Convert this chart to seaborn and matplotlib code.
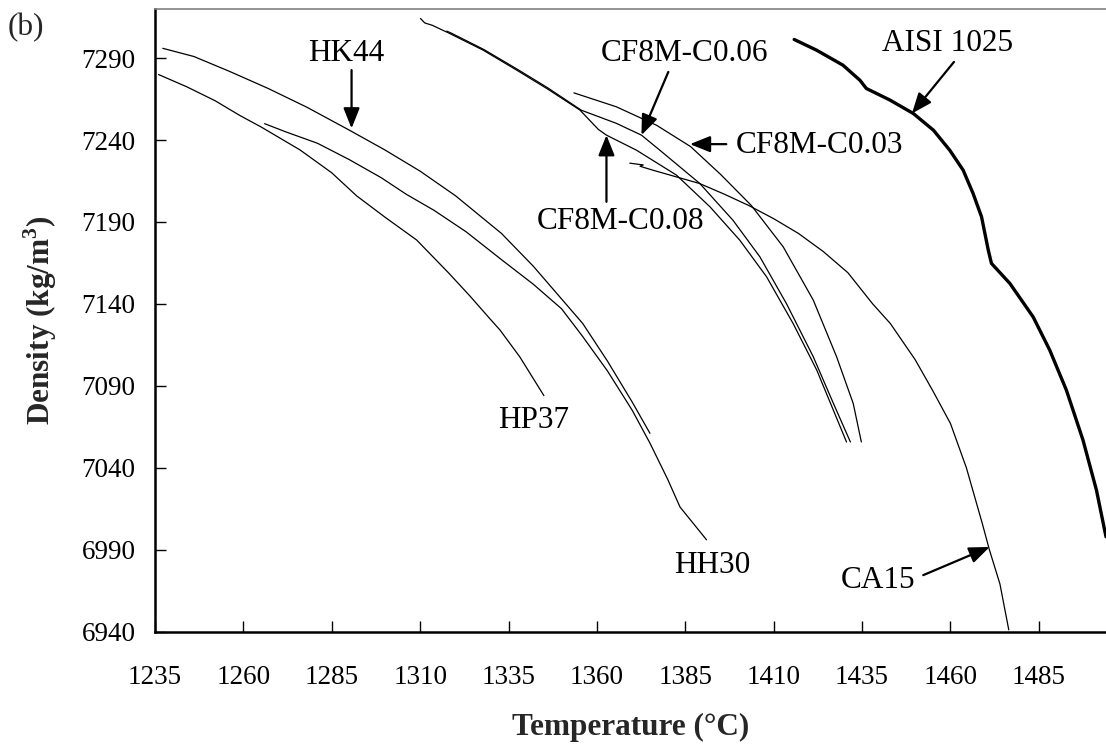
import numpy as np
import pandas as pd
import matplotlib
matplotlib.use("Agg")
import matplotlib.pyplot as plt
import seaborn as sns

# Density vs temperature curves for cast alloys (kg/m^3 vs degC)
hk44_t = [1237.2, 1246, 1256, 1267, 1278, 1290, 1300, 1310, 1320, 1333, 1342, 1350, 1356, 1363, 1370, 1375]
hk44_rho = [7296, 7291, 7282, 7271.5, 7260, 7246, 7234, 7221, 7206, 7183, 7163, 7143, 7128, 7105, 7080, 7061]

hp37_t = [1236, 1244, 1252, 1259, 1265, 1276, 1285, 1292, 1300, 1309, 1318, 1324, 1329.7, 1332.6, 1338.2, 1345]
hp37_rho = [7280, 7272.5, 7264, 7255, 7248, 7234, 7220, 7206, 7193, 7179, 7159, 7145, 7131, 7124, 7107.6, 7084]

hh30_t = [1266, 1272, 1281, 1290, 1299, 1306, 1314, 1323, 1333, 1342, 1350, 1356, 1363, 1370, 1375, 1380, 1383.5, 1391]
hh30_rho = [7250, 7245, 7238, 7228, 7217, 7207, 7197, 7184, 7167, 7152, 7137, 7120, 7099, 7075, 7055, 7033, 7016, 6996]

cf8m08_t = [1310.1, 1311.3, 1313.5, 1318.4, 1327.8, 1337.3, 1345.8, 1355.2, 1360.4, 1362.7, 1371.2, 1382.5,
            1392, 1400.4, 1408, 1415.5, 1422.2, 1426.9, 1430.6]
cf8m08_rho = [7314.2, 7311.5, 7310, 7305, 7294.9, 7282.7, 7271.5, 7258.3, 7246.5, 7243, 7233.8, 7218.6,
              7199.2, 7178.9, 7156.5, 7128, 7099.5, 7075, 7055.7]

cf8m06_t = [1317.5, 1318.6, 1328, 1337.5, 1346, 1355.6, 1365.5, 1372.6, 1377.8, 1389.1, 1398.5, 1406.1,
            1413.6, 1421.2, 1426.9, 1431.7]
cf8m06_rho = [7306.5, 7305.5, 7295.3, 7283.2, 7272, 7258.2, 7250.2, 7243, 7233.8, 7213.5, 7191, 7168.7,
              7140.2, 7107.7, 7079.2, 7055.7]

cf8m03_t = [1353.5, 1365.5, 1376.9, 1386.5, 1395, 1403.7, 1412.7, 1421.2, 1427.8, 1432.5, 1434.8]
cf8m03_rho = [7268.8, 7260.3, 7249, 7236, 7219, 7200, 7174.8, 7142.3, 7107.7, 7079.2, 7055.7]

ca15_t = [1369.3, 1373.1, 1372.2, 1376, 1382.5, 1389, 1396, 1403, 1410, 1417, 1424, 1431, 1438, 1443,
          1450, 1455, 1460, 1464.5, 1469, 1471, 1474, 1476.5]
ca15_rho = [7225.9, 7224.8, 7224.0, 7221.5, 7217.5, 7213.5, 7207, 7200, 7192, 7183, 7172, 7159, 7140, 7128,
            7106, 7087, 7067, 7040, 7006, 6990, 6969, 6941]

aisi_t = [1415.8, 1422.1, 1429.6, 1434.4, 1436.2, 1442.9, 1449.5, 1455.2, 1459.8, 1463.6, 1466.4, 1468.8,
          1470.7, 1471.6, 1476.8, 1483.4, 1488.1, 1492.8, 1497.5, 1501.3, 1504]
aisi_rho = [7301.4, 7294.9, 7285.7, 7276.5, 7271.5, 7264.4, 7256.2, 7246, 7233.8, 7221.6, 7207.4, 7193.1,
            7172.8, 7164.7, 7152.5, 7132, 7111.7, 7087.3, 7056.8, 7026.3, 6997.8]

x_ticks = [1235, 1260, 1285, 1310, 1335, 1360, 1385, 1410, 1435, 1460, 1485]
y_ticks = [6940, 6990, 7040, 7090, 7140, 7190, 7240, 7290]

series = [
    ("HK44", hk44_t, hk44_rho),
    ("HP37", hp37_t, hp37_rho),
    ("HH30", hh30_t, hh30_rho),
    ("CF8M-C0.08", cf8m08_t, cf8m08_rho),
    ("CF8M-C0.06", cf8m06_t, cf8m06_rho),
    ("CF8M-C0.03", cf8m03_t, cf8m03_rho),
    ("CA15", ca15_t, ca15_rho),
    ("AISI 1025", aisi_t, aisi_rho),
]
df = pd.concat(
    [pd.DataFrame({"alloy": name, "T": t, "rho": r, "order": np.arange(len(t))}) for name, t, r in series],
    ignore_index=True,
)

sns.set_theme(style="ticks")
plt.rcParams["font.family"] = ["Liberation Serif", "DejaVu Serif"]
plt.rcParams["mathtext.fontset"] = "custom"
plt.rcParams["mathtext.rm"] = "Liberation Serif"
plt.rcParams["mathtext.bf"] = "Liberation Serif:bold"
plt.rcParams["lines.solid_joinstyle"] = "round"

fig = plt.figure(figsize=(11.06, 7.47), dpi=100)
ax = fig.add_axes([155 / 1106, 1 - 631.5 / 747, 1 - 155 / 1106, (631.5 - 9) / 747])

for name, _, _ in series:
    sub = df[df["alloy"] == name]
    sns.lineplot(data=sub, x="T", y="rho", sort=False, estimator=None, ax=ax,
                 color="black", lw=2.4 if name == "AISI 1025" else 0.9, legend=False)

ax.set_xlim(1235, 1504)
ax.set_ylim(6940, 7320)
ax.set_xticks(x_ticks)
ax.set_yticks(y_ticks)
ax.set_xlabel("")
ax.set_ylabel("")
ax.tick_params(axis="both", direction="in", length=8, width=1, colors="black", labelsize=19.5)
ax.tick_params(axis="x", pad=24)
ax.tick_params(axis="y", pad=14)

for s in ["left", "bottom"]:
    ax.spines[s].set_linewidth(1.8)
    ax.spines[s].set_color("black")
ax.spines["top"].set_color("#808080")
ax.spines["top"].set_linewidth(1.2)
ax.spines["right"].set_visible(False)

fs = 22.5
labels = [
    ("HK44", 1289.2, 7292.9),
    ("CF8M-C0.06", 1384.7, 7292.9),
    ("CF8M-C0.08", 1366.7, 7190.0),
    ("CF8M-C0.03", 1422.9, 7236.9),
    ("AISI 1025", 1459.2, 7299.0),
    ("CA15", 1439.6, 6971.3),
    ("HP37", 1342.0, 7069.0),
    ("HH30", 1392.6, 6980.5),
]
for txt, x, y in labels:
    ax.text(x, y, txt, fontsize=fs, ha="center", va="center", color="black")

arrows = [
    ((1290.6, 7282.7), (1290.6, 7247.1)),
    ((1380.2, 7281.6), (1372.6, 7243.0)),
    ((1362.7, 7202.3), (1362.7, 7243.0)),
    ((1396.6, 7237.5), (1386.3, 7237.5)),
    ((1461.0, 7287.7), (1449.1, 7256.2)),
    ((1452.3, 6974.4), (1471.1, 6991.6)),
]
for start, tip in arrows:
    ax.annotate("", xy=tip, xytext=start,
                arrowprops=dict(arrowstyle="-|>,head_length=0.55,head_width=0.22",
                                lw=1.6, color="black", shrinkA=0, shrinkB=0,
                                mutation_scale=fs))

fig.text(8 / 1106, 1 - 28 / 747, "(b)", fontsize=fs, ha="left", va="center")
fig.text((155 + 1106) / 2 / 1106, 1 - 727 / 747, "Temperature (°C)", fontsize=fs,
         fontweight="bold", ha="center", va="center")
fig.text(40 / 1106, 1 - 320 / 747, r"Density (kg/m$^\mathbf{3}$)", fontsize=fs,
         fontweight="bold", ha="center", va="center", rotation=90)

fig.savefig("out.png", dpi=100)
